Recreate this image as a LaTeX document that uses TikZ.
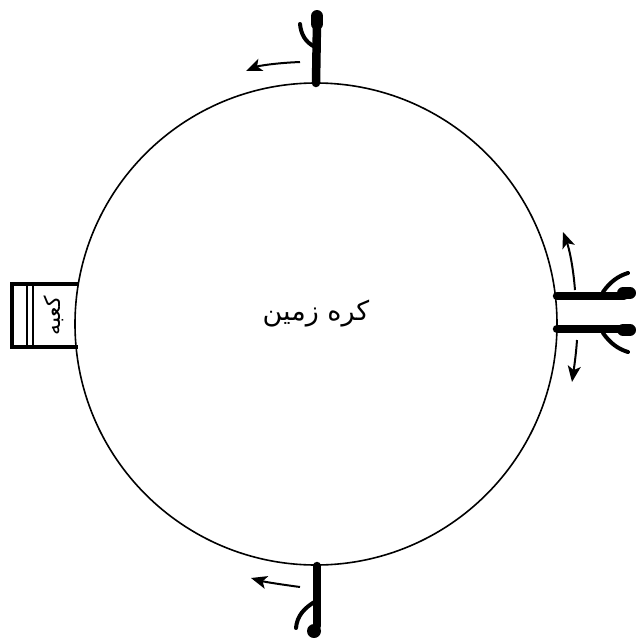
\documentclass[tikz,border=0pt]{standalone}
\usepackage{fontspec}
\newfontfamily\arabicfont[Script=Arabic]{DejaVu Sans}
\TeXXeTstate=1
\usetikzlibrary{arrows.meta}

\begin{document}
\begin{tikzpicture}[
    x=1pt, y=-1pt,
    earth/.style={draw, circle, line width=1.6pt, minimum size=482pt, inner sep=0pt},
    body/.style={line width=8.5pt, line cap=round},
    head/.style={line width=12pt, line cap=round},
    limb/.style={line width=4pt, line cap=round},
    move/.style={-{Stealth[length=16pt, width=13pt, inset=4pt]}, line width=2pt},
    farsi/.style={font=\arabicfont\fontsize{#1}{#1}\selectfont, inner sep=0pt},
    farsi/.default=20
]
    \useasboundingbox (0,0) rectangle (636,638);
    \node[earth] (globe) at (316,324) {};
    \node[farsi=27] (name) at (316,314) {\beginR کره زمین\endR};

    \draw[line width=4pt] (79,284) -- (12,284) -- (12,347) -- (78,347);
    \draw[line width=1.6pt] (27,284) -- (27,347) (33,284) -- (33,347);
    \node[farsi=22, rotate=90] (kaaba) at (54,316) {\beginR کعبه\endR};

    \draw[body] (316,83) -- (317,22);
    \draw[head] (317,16) -- (317,24);
    \draw[limb] (315,47) .. controls (305,42) and (301,34) .. (300,24);
    \draw[move] (300,62) .. controls (275,63) and (258,66) .. (246,71);

    \draw[body] (317,566) -- (317,626);
    \fill (314,631) circle (7);
    \draw[limb] (316,601) .. controls (304,608) and (297,616) .. (296,628);
    \draw[move] (300,587) .. controls (285,585) and (265,582) .. (251,578);

    \draw[body] (557,296) -- (624,296);
    \draw[head] (623,293) -- (630,293);
    \draw[limb] (603,292) .. controls (610,282) and (618,276) .. (628,273);
    \draw[move] (575,290) .. controls (573,265) and (569,248) .. (563,232);

    \draw[body] (557,329) -- (624,329);
    \draw[head] (623,330) -- (630,330);
    \draw[limb] (603,333) .. controls (610,343) and (618,349) .. (628,352);
    \draw[move] (577,340) .. controls (576,355) and (574,368) .. (572,382);
\end{tikzpicture}
\end{document}
